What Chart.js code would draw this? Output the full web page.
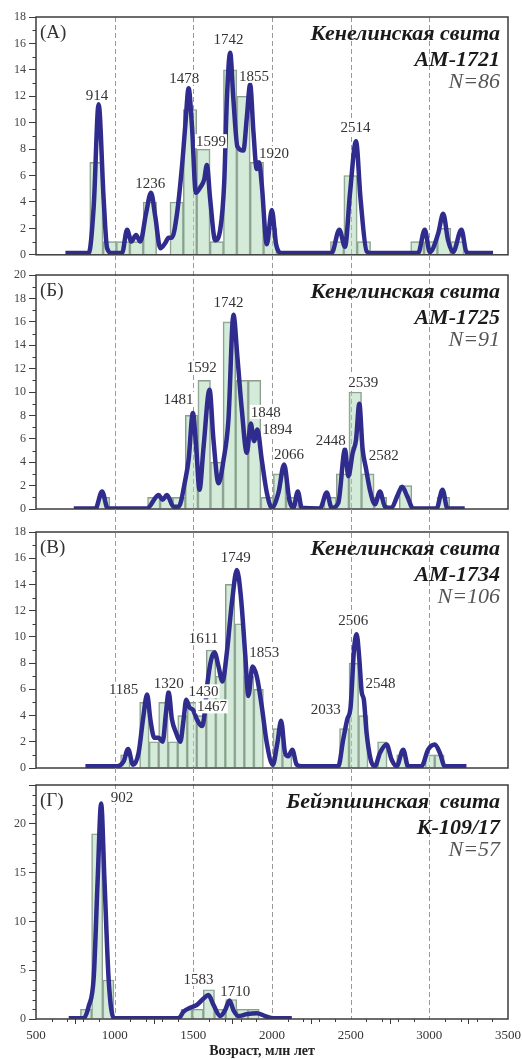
<!DOCTYPE html>
<html>
<head>
<meta charset="utf-8">
<script src="https://cdn.jsdelivr.net/npm/chart.js@4.4.1/dist/chart.umd.min.js"></script>
<style>
  body { margin: 0; background: #fff; }
  #wrap { position: relative; width: 522px; height: 1059px; overflow: hidden; }
  #wrap canvas { position: absolute; left: 0; }
</style>
</head>
<body>
<div id="wrap">
  <canvas id="cA" width="522" height="265" style="top:0"></canvas>
  <canvas id="cB" width="522" height="265" style="top:255px"></canvas>
  <canvas id="cC" width="522" height="270" style="top:509px"></canvas>
  <canvas id="cD" width="522" height="291" style="top:768px"></canvas>
</div>
<script>
// (А) Кенелинская свита, АМ-1721 — гистограмма (центры бинов) и КПВ
const binA = [884, 969, 1054, 1139, 1224, 1394, 1479, 1564, 1649, 1734, 1819, 1904, 1989, 2414, 2499, 2584, 2924, 3009, 3094, 3179];
const cntA = [7, 1, 1, 1, 4, 4, 11, 8, 1, 14, 12, 7, 2, 1, 6, 1, 1, 1, 2, 1];
const kdeAx = [687, 835, 867, 898, 930, 952, 983, 1047, 1079, 1106, 1136, 1163, 1199, 1231, 1258, 1290, 1322,
  1343, 1364, 1396, 1428, 1449, 1470, 1491, 1516, 1544, 1569, 1586, 1607, 1639, 1671, 1696, 1713, 1734, 1755,
  1780, 1818, 1840, 1861, 1882, 1903, 1918, 1935, 1967, 1999, 2026, 2062, 2379, 2428, 2464, 2496, 2534, 2563,
  2602, 2633, 2929, 2971, 3003, 3056, 3088, 3119, 3151, 3204, 3236, 3268, 3405];
const kdeAy = [0.13, 0.13, 3.7, 11.4, 4.2, 0.5, 0.13, 0.13, 1.9, 1.0, 1.5, 1.0, 3.1, 4.7, 2.9, 0.5, 0.9,
  1.3, 1.3, 3.1, 6.7, 9.8, 12.6, 9.8, 4.7, 5.1, 5.7, 6.8, 4.2, 1.1, 1.9, 5.4, 11.7, 15.3, 11.7,
  8.2, 7.9, 10.4, 12.9, 9.3, 6.5, 7.0, 5.3, 0.8, 3.4, 0.8, 0.13, 0.13, 1.9, 0.6, 4.7, 8.6, 4.2,
  0.25, 0.13, 0.13, 1.9, 0.2, 1.6, 3.1, 1.1, 0.2, 1.9, 0.2, 0.13, 0.13];
const peaksA = [
  {t: '914', x: 888, y: 12.1}, {t: '1236', x: 1226, y: 5.45}, {t: '1478', x: 1442, y: 13.4},
  {t: '1599', x: 1612, y: 8.6}, {t: '1742', x: 1723, y: 16.3}, {t: '1855', x: 1886, y: 13.55},
  {t: '1920', x: 2013, y: 7.7}, {t: '2514', x: 2531, y: 9.7}];

// (Б) Кенелинская свита, АМ-1725
const binB = [929, 1249, 1329, 1409, 1489, 1569, 1649, 1729, 1809, 1889, 1969, 2049, 2129, 2369, 2449, 2529, 2609, 2689, 2849, 3089];
const cntB = [1, 1, 1, 1, 8, 11, 4, 16, 11, 11, 1, 3, 1, 1, 3, 10, 3, 1, 2, 1];
const kdeBx = [740, 878, 920, 956, 1206, 1279, 1305, 1332, 1374, 1406, 1449, 1470, 1497, 1518, 1539, 1565, 1603,
  1628, 1660, 1692, 1723, 1755, 1780, 1808, 1840, 1865, 1886, 1907, 1935, 1967, 1999, 2041, 2077, 2110, 2136,
  2164, 2189, 2305, 2348, 2379, 2421, 2464, 2485, 2513, 2534, 2555, 2576, 2597, 2622, 2654, 2686, 2718, 2760,
  2796, 2827, 2859, 2897, 3046, 3084, 3115, 3225];
const kdeBy = [0.05, 0.05, 1.5, 0.05, 0.05, 1.2, 0.8, 1.2, 0.2, 0.2, 2.5, 4.2, 8.2, 5.3, 1.65, 5.3, 10.2,
  5.9, 2.2, 4.2, 7.6, 16.6, 13.0, 8.5, 4.8, 7.3, 5.8, 6.8, 4.2, 1.4, 0.1, 1.4, 3.8, 0.8, 0.1,
  1.5, 0.1, 0.05, 1.4, 0.1, 0.5, 5.1, 2.8, 4.8, 5.9, 9.0, 5.1, 3.5, 1.65, 0.4, 1.5, 0.2, 0.1,
  1.1, 1.9, 1.1, 0.05, 0.05, 1.65, 0.05, 0.05];
const peaksB = [
  {t: '1742', x: 1723, y: 17.7}, {t: '1592', x: 1554, y: 12.1}, {t: '1481', x: 1406, y: 9.4},
  {t: '1848', x: 1961, y: 8.3}, {t: '1894', x: 2034, y: 6.85}, {t: '2066', x: 2108, y: 4.7},
  {t: '2448', x: 2373, y: 5.85}, {t: '2539', x: 2580, y: 10.85}, {t: '2582', x: 2711, y: 4.6}];

// (В) Кенелинская свита, АМ-1734
const binC = [1068, 1189, 1249.5, 1310, 1370.5, 1431, 1491.5, 1552, 1612.5, 1673, 1733.5, 1794, 1854.5, 1915,
  2036, 2096.5, 2459.5, 2520, 2580.5, 2701.5, 2822.5, 3004, 3064.5];
const cntC = [1, 5, 2, 5, 2, 4, 5, 4, 9, 7, 14, 11, 7, 6, 3, 1, 3, 8, 4, 2, 1, 1, 1];
const kdeCx = [814, 1015, 1057, 1085, 1117, 1152, 1180, 1206, 1227, 1252, 1279, 1305, 1326, 1343, 1364,
  1390, 1417, 1438, 1455, 1476, 1497, 1523, 1555, 1569, 1590, 1614, 1635, 1660, 1685, 1713, 1745, 1777,
  1802, 1829, 1850, 1876, 1903, 1935, 1967, 2005, 2034, 2058, 2083, 2104, 2129, 2157, 2189, 2421, 2453,
  2478, 2500, 2521, 2538, 2555, 2570, 2584, 2601, 2627, 2654, 2686, 2728, 2760, 2792, 2834, 2865, 2950,
  2992, 3035, 3067, 3098, 3236];
const kdeCy = [0.13, 0.13, 0.5, 1.45, 0.25, 1.15, 3.7, 5.6, 3.7, 2.3, 2.3, 2.0, 4.2, 5.8, 3.7,
  2.7, 2.0, 3.7, 5.2, 4.6, 4.45, 3.7, 3.2, 3.9, 6.5, 8.3, 8.8, 7.75, 6.6, 8.8, 12.6, 15.1,
  13.1, 8.8, 5.5, 7.75, 7.0, 4.7, 1.9, 0.25, 1.9, 3.6, 1.15, 0.9, 1.4, 0.25, 0.13, 0.13, 2.2,
  3.7, 4.7, 9.0, 10.2, 8.3, 5.8, 5.2, 2.7, 0.65, 0.13, 1.15, 1.8, 0.65, 0.13, 1.4, 0.13, 0.13,
  1.4, 1.8, 1.15, 0.13, 0.13];
const peaksC = [
  {t: '1749', x: 1770, y: 16.1}, {t: '1611', x: 1565, y: 9.9}, {t: '1853', x: 1950, y: 8.85},
  {t: '1185', x: 1057, y: 6.05}, {t: '1320', x: 1343, y: 6.45}, {t: '1430', x: 1565, y: 5.85},
  {t: '1467', x: 1618, y: 4.7}, {t: '2033', x: 2341, y: 4.5}, {t: '2506', x: 2517, y: 11.25},
  {t: '2548', x: 2690, y: 6.45}];

// (Г) Бейэпшинская свита, К-109/17
const binD = [818, 889, 960, 1457, 1528, 1599, 1670, 1741, 1812, 1883];
const cntD = [1, 19, 4, 1, 1, 3, 1, 2, 1, 1];
const kdeDx = [708, 803, 835, 867, 892, 914, 935, 962, 994, 1036, 1406, 1438, 1480, 1523, 1565, 1596, 1628,
  1671, 1702, 1730, 1755, 1787, 1840, 1903, 1956, 2009, 2126];
const kdeDy = [0.07, 0.07, 1.3, 4.3, 14.3, 22.1, 14.3, 4.0, 0.1, 0.07, 0.07, 0.75, 1.15, 1.45, 2.1, 2.45, 1.45,
  0.3, 0.9, 1.9, 0.9, 0.3, 0.5, 0.6, 0.3, 0.07, 0.07];
const peaksD = [{t: '902', x: 1047, y: 22.8}, {t: '1583', x: 1533, y: 4.1}, {t: '1710', x: 1766, y: 2.9}];

const SERIF = '"Liberation Serif", "DejaVu Serif", serif';
const NAVY = '#2f2c8e';
const AXIS = '#3c3c3c';
const GUIDES = [1000, 1500, 2000, 2500, 3000];

const decor = {
  id: 'decor',
  beforeDatasetsDraw(chart, args, o) {
    const {ctx, chartArea: a, scales: {x}} = chart;
    ctx.save();
    ctx.strokeStyle = '#9a9a9a';
    ctx.lineWidth = 1;
    ctx.setLineDash([5, 3]);
    GUIDES.forEach(v => {
      const px = Math.round(x.getPixelForValue(v)) + 0.5;
      ctx.beginPath();
      ctx.moveTo(px, a.top - o.lead);
      ctx.lineTo(px, a.bottom);
      ctx.stroke();
    });
    ctx.restore();
  },
  afterDatasetsDraw(chart, args, o) {
    const {ctx, chartArea: a, scales: {x, y}} = chart;
    ctx.save();
    // подписи пиков на белой подложке
    ctx.font = '15px ' + SERIF;
    ctx.textAlign = 'center';
    ctx.textBaseline = 'middle';
    o.peaks.forEach(p => {
      const px = x.getPixelForValue(p.x), py = y.getPixelForValue(p.y);
      const w = ctx.measureText(p.t).width;
      ctx.fillStyle = '#fff';
      ctx.fillRect(px - w / 2 - 1, py - 7, w + 2, 14);
      ctx.fillStyle = '#333';
      ctx.fillText(p.t, px, py + 1);
    });
    // рамка
    ctx.strokeStyle = AXIS;
    ctx.lineWidth = 1.5;
    ctx.strokeRect(a.left, a.top, a.right - a.left, a.bottom - a.top);
    // мелкие деления
    ctx.lineWidth = 1;
    for (let v = 1; v < o.ymax; v++) {
      if (v % o.step == 0) continue;
      const py = Math.round(y.getPixelForValue(v)) + 0.5;
      ctx.beginPath(); ctx.moveTo(a.left - 3.5, py); ctx.lineTo(a.left, py); ctx.stroke();
    }
    if (o.xAxis) {
      for (let v = 600; v < 3500; v += 100) {
        if (v % 500 == 0) continue;
        const px = Math.round(x.getPixelForValue(v)) + 0.5;
        ctx.beginPath(); ctx.moveTo(px, a.bottom); ctx.lineTo(px, a.bottom + 3); ctx.stroke();
      }
      ctx.font = 'bold 14px ' + SERIF;
      ctx.fillStyle = '#222';
      ctx.textAlign = 'center';
      ctx.fillText('Возраст, млн лет', 262, a.bottom + 32);
    }
    // буква панели
    ctx.textAlign = 'left';
    ctx.font = '19px ' + SERIF;
    ctx.fillStyle = '#333';
    ctx.fillText(o.letter, a.left + 4, a.top + 16);
    // заголовок
    ctx.textAlign = 'right';
    const rx = a.right - 8;
    ctx.fillStyle = '#1a1a1a';
    ctx.font = 'italic bold 22px ' + SERIF;
    ctx.fillText(o.title[0], rx, a.top + 17);
    ctx.fillText(o.title[1], rx, a.top + 43);
    ctx.fillStyle = '#555';
    ctx.font = 'italic 22px ' + SERIF;
    ctx.fillText(o.title[2], rx, a.top + 65);
    ctx.restore();
  }
};

function panel(id, bx, by, kx, ky, o) {
  return new Chart(document.getElementById(id), {
    type: 'bar',
    data: {
      datasets: [
        {
          type: 'line',
          data: kx.map((v, i) => ({x: v, y: ky[i]})),
          borderColor: NAVY,
          borderWidth: 4.5,
          pointRadius: 0,
          cubicInterpolationMode: 'monotone',
          order: 0,
        },
        {
          data: bx.map((v, i) => ({x: v, y: by[i]})),
          backgroundColor: 'rgba(170, 215, 180, 0.5)',
          borderColor: '#8c9c8f',
          borderWidth: 1,
          barPercentage: 1,
          categoryPercentage: 1,
          order: 1,
        },
      ],
    },
    options: {
      responsive: false,
      animation: false,
      events: [],
      layout: {padding: {top: o.padTop, bottom: o.padBottom, left: 0, right: 14}},
      scales: {
        x: {
          type: 'linear', min: 500, max: 3500, offset: false, display: o.xAxis,
          ticks: {stepSize: 500, font: {family: SERIF, size: 13}, color: '#333', padding: 4, maxRotation: 0,
            callback: v => String(v)},
          grid: {drawOnChartArea: false, tickLength: 5, tickColor: AXIS},
          border: {display: false},
          afterFit: s => {
            if (!o.xAxis) return;
            s.height = 40;
            s.paddingLeft = 0;
            s.paddingRight = 0;
          },
        },
        y: {
          min: 0, max: o.ymax,
          ticks: {stepSize: o.step, font: {family: SERIF, size: 12}, color: '#444', padding: 3,
            callback: v => (v % o.step == 0 ? String(v) : '')},
          grid: {drawOnChartArea: false, tickLength: 7, tickColor: AXIS},
          border: {display: false},
          afterFit: s => { s.width = 36; },
        },
      },
      plugins: {
        legend: {display: false},
        tooltip: {enabled: false},
        decor: o,
      },
    },
    plugins: [decor],
  });
}

panel('cA', binA, cntA, kdeAx, kdeAy, {
  padTop: 17, padBottom: 10, lead: 0, ymax: 18, step: 2, xAxis: false, letter: '(А)', peaks: peaksA,
  title: ['Кенелинская свита', 'АМ-1721', 'N=86']});
panel('cB', binB, cntB, kdeBx, kdeBy, {
  padTop: 20, padBottom: 11, lead: 20, ymax: 20, step: 2, xAxis: false, letter: '(Б)', peaks: peaksB,
  title: ['Кенелинская свита', 'АМ-1725', 'N=91']});
panel('cC', binC, cntC, kdeCx, kdeCy, {
  padTop: 23, padBottom: 11, lead: 23, ymax: 18, step: 2, xAxis: false, letter: '(В)', peaks: peaksC,
  title: ['Кенелинская свита', 'АМ-1734', 'N=106']});
panel('cD', binD, cntD, kdeDx, kdeDy, {
  padTop: 17, padBottom: 0, lead: 17, ymax: 24, step: 5, xAxis: true, letter: '(Г)', peaks: peaksD,
  title: ['Бейэпшинская  свита', 'К-109/17', 'N=57']});
</script>
</body>
</html>
